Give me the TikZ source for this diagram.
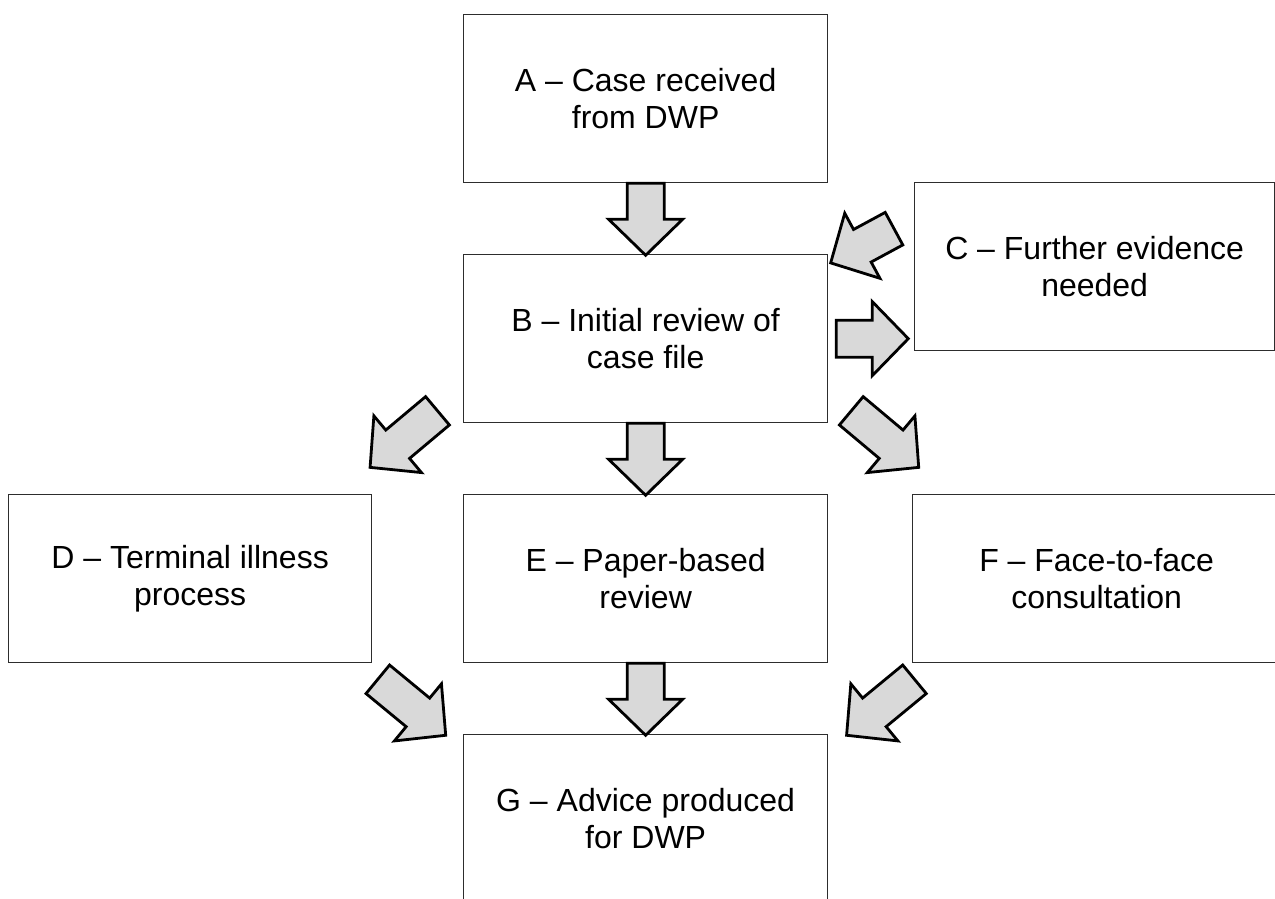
\documentclass[tikz,border=0pt]{standalone}
\usepackage{fontspec}
\setmainfont{Liberation Sans}
\usetikzlibrary{calc}
\definecolor{boxline}{RGB}{45,45,45}
\definecolor{arrfill}{RGB}{217,217,217}
\tikzset{
  stagebox/.style={draw=boxline, line width=1.3pt, fill=white, minimum width=364pt, minimum height=168pt,
    inner sep=0pt, align=center, anchor=north west, font=\fontsize{32}{37}\selectfont},
  blockarrow/.style={draw=black, line width=2.8pt, fill=arrfill, line join=miter}
}
\newcommand\blockarr[3]{%
  \draw[blockarrow, shift={(#1)}, rotate=#2] (0,-18.5) -- (#3-36,-18.5) -- (#3-36,-37) -- (#3,0)
    -- (#3-36,37) -- (#3-36,18.5) -- (0,18.5) -- cycle;}
\begin{document}
\begin{tikzpicture}[x=1pt,y=-1pt]
\useasboundingbox (0,0) rectangle (1275,898);
\clip (0,0) rectangle (1275,898);
\node[stagebox] (A) at (463,14) {A -- Case received\\from DWP};
\node[stagebox] (B) at (463,254) {B -- Initial review of\\case file};
\node[stagebox, minimum width=360pt] (C) at (914,182) {C -- Further evidence\\needed};
\node[stagebox, minimum width=363pt] (D) at (8,494) {D -- Terminal illness\\process};
\node[stagebox] (E) at (463,494) {E -- Paper-based\\review};
\node[stagebox, minimum width=368pt] (F) at (912,494) {F -- Face-to-face\\consultation};
\node[stagebox] (G) at (463,734) {G -- Advice produced\\for DWP};
% connectors
\blockarr{A.south}{-90}{72}
\blockarr{B.south}{-90}{72}
\blockarr{E.south}{-90}{72}
\blockarr{$(B.east)+(8,0)$}{0}{72}
\blockarr{$(C.west)+(-20,-38)$}{208.4}{72}
\blockarr{$(B.south west)+(-25.5,-12.5)$}{220}{88}
\blockarr{$(B.south east)+(23,-12.5)$}{-40}{88}
\blockarr{$(D.south east)+(5.5,16)$}{-39.5}{88}
\blockarr{$(F.south west)+(2.5,16)$}{219.5}{88}
\end{tikzpicture}
\end{document}
